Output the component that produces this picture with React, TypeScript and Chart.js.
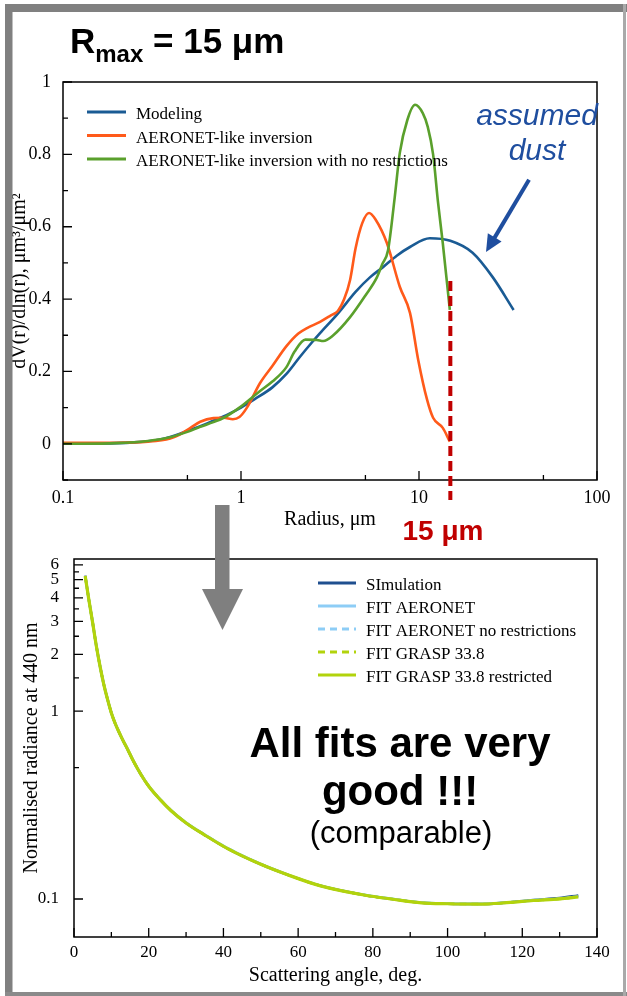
import React, { useEffect, useRef } from "react";
import { Chart, registerables } from "chart.js";
Chart.register(...registerables);

const SERIF = "'Liberation Serif', 'Times New Roman', serif";
const SANS = "'Liberation Sans', Arial, sans-serif";

// ---------- Top chart: volume size distributions ----------
const topSeriesNames = ["Modeling", "AERONET-like inversion", "AERONET-like inversion with no restrictions"];
const topColors = ["#1a5b94", "#ff5a1a", "#5aa02c"];

const modelingRadius = [0.1, 0.15, 0.2, 0.25, 0.3, 0.35, 0.4, 0.45, 0.5, 0.6, 0.7, 0.85, 1, 1.2, 1.5, 1.8, 2.14, 2.5, 2.78, 3.5, 4.4, 5.3, 6.3, 7.5, 8.9, 11.5, 15, 20, 26, 34];
const modelingValue = [0, 0.001, 0.002, 0.004, 0.007, 0.012, 0.019, 0.027, 0.036, 0.05, 0.064, 0.082, 0.1, 0.124, 0.156, 0.193, 0.24, 0.28, 0.306, 0.36, 0.42, 0.46, 0.489, 0.52, 0.544, 0.568, 0.561, 0.528, 0.46, 0.37];

const aeronetRadius = [0.1, 0.2, 0.3, 0.4, 0.45, 0.52, 0.59, 0.7, 0.8, 0.9, 0.98, 1.08, 1.28, 1.5, 1.8, 2.1, 2.35, 2.78, 3.2, 3.5, 3.8, 4.1, 4.4, 4.8, 5.24, 5.7, 6.6, 7.8, 8.9, 9.9, 11.1, 12, 13.6, 14.9];
const aeronetValue = [0.003, 0.003, 0.006, 0.015, 0.025, 0.044, 0.061, 0.071, 0.072, 0.068, 0.074, 0.1, 0.168, 0.215, 0.27, 0.305, 0.32, 0.337, 0.355, 0.367, 0.4, 0.453, 0.54, 0.61, 0.638, 0.62, 0.555, 0.434, 0.362, 0.232, 0.122, 0.072, 0.044, 0.006];

const freeRadius = [0.1, 0.2, 0.3, 0.4, 0.5, 0.59, 0.7, 0.8, 0.98, 1.28, 1.5, 1.8, 2.0, 2.3, 2.67, 2.9, 3.3, 4.1, 5.0, 5.8, 6.2, 6.7, 7.3, 7.8, 8.6, 9.5, 10.5, 11.2, 12, 12.8, 13.6, 14.9];
const freeValue = [0, 0.002, 0.008, 0.018, 0.033, 0.047, 0.06, 0.072, 0.1, 0.146, 0.172, 0.212, 0.255, 0.288, 0.287, 0.284, 0.3, 0.35, 0.41, 0.46, 0.495, 0.535, 0.68, 0.804, 0.895, 0.937, 0.914, 0.876, 0.8, 0.666, 0.555, 0.37];

const radiusTicks = [0.1, 0.5, 1, 5, 10, 50, 100];
const radiusLabels = [0.1, 1, 10, 100];
const dvTicks = [-0.1, 0, 0.1, 0.2, 0.3, 0.4, 0.5, 0.6, 0.7, 0.8, 0.9, 1];
const dvLabels = [0, 0.2, 0.4, 0.6, 0.8, 1];
const rMax = 15;
const rMaxLineTop = 0.45;
const dustArrowFrom = [41.5, 0.73];
const dustArrowTo = [23.8, 0.53];

// ---------- Bottom chart: radiance fits ----------
const bottomSeriesNames = ["SImulation", "FIT AERONET", "FIT AERONET no restrictions", "FIT GRASP 33.8", "FIT GRASP 33.8 restricted"];
const angles = [3, 4, 5, 6, 7, 8, 9, 10, 11, 12, 13, 14.5, 16, 18, 20, 23, 26, 30, 35, 41, 50, 57, 66, 78, 85, 93, 100, 109, 115, 123, 130, 135];
const simulation = [5.25, 3.89, 2.95, 2.21, 1.72, 1.38, 1.15, 0.977, 0.861, 0.776, 0.705, 0.617, 0.537, 0.457, 0.398, 0.339, 0.295, 0.254, 0.219, 0.186, 0.153, 0.135, 0.1175, 0.1047, 0.1, 0.0955, 0.0944, 0.094, 0.0955, 0.0989, 0.1012, 0.1045];
const fitAeronet = [5.22, 3.88, 2.94, 2.2, 1.715, 1.378, 1.149, 0.977, 0.861, 0.776, 0.706, 0.618, 0.538, 0.458, 0.399, 0.34, 0.296, 0.255, 0.22, 0.187, 0.1535, 0.1352, 0.1178, 0.1049, 0.1003, 0.0957, 0.0946, 0.0942, 0.0954, 0.0984, 0.1004, 0.103];
const fitAeronetFree = [5.22, 3.88, 2.94, 2.2, 1.715, 1.378, 1.149, 0.977, 0.861, 0.776, 0.706, 0.618, 0.538, 0.458, 0.399, 0.34, 0.296, 0.255, 0.22, 0.187, 0.1535, 0.1352, 0.1178, 0.1049, 0.1003, 0.0958, 0.0947, 0.0943, 0.0955, 0.0985, 0.1005, 0.1031];
const fitGrasp = [5.23, 3.885, 2.945, 2.205, 1.718, 1.379, 1.15, 0.977, 0.861, 0.776, 0.705, 0.617, 0.537, 0.457, 0.398, 0.339, 0.295, 0.254, 0.219, 0.186, 0.153, 0.135, 0.1175, 0.1047, 0.1, 0.0955, 0.0944, 0.094, 0.0953, 0.0982, 0.1002, 0.1027];
const fitGraspRestricted = [5.23, 3.885, 2.945, 2.205, 1.718, 1.379, 1.15, 0.977, 0.861, 0.776, 0.705, 0.617, 0.537, 0.457, 0.398, 0.339, 0.295, 0.254, 0.219, 0.186, 0.153, 0.135, 0.1175, 0.1047, 0.1, 0.0955, 0.0944, 0.094, 0.0953, 0.0982, 0.1002, 0.1027];
const angleTicks = [0, 10, 20, 30, 40, 50, 60, 70, 80, 90, 100, 110, 120, 130, 140];
const angleLabels = [0, 20, 40, 60, 80, 100, 120, 140];
const radianceTicks = [0.1, 0.5, 1, 1.5, 2, 2.5, 3, 3.5, 4, 4.5, 5, 5.5, 6];
const radianceLabels = [0.1, 1, 2, 3, 4, 5, 6];

const NAVY = "#1f4f8f";
const LIGHTBLUE = "#8dcdf6";
const LIME = "#b2d30c";

function pairs(xs: number[], ys: number[]) {
  return xs.map((x, i) => ({ x, y: ys[i] }));
}

function frameTicks(xTicks: number[], xMajor: number[], yTicks: number[], yMajor: number[]) {
  return {
    id: "frameTicks",
    afterDatasetsDraw(chart: any) {
      const { ctx, chartArea: a, scales } = chart;
      ctx.save();
      ctx.strokeStyle = "#000";
      ctx.lineWidth = 1.5;
      ctx.strokeRect(a.left, a.top, a.right - a.left, a.bottom - a.top);
      ctx.lineWidth = 1.3;
      ctx.beginPath();
      xTicks.forEach((v) => {
        const x = scales.x.getPixelForValue(v);
        const L = xMajor.includes(v) ? 9 : 5;
        ctx.moveTo(x, a.bottom);
        ctx.lineTo(x, a.bottom - L);
      });
      yTicks.forEach((v) => {
        const y = scales.y.getPixelForValue(v);
        const L = yMajor.includes(v) ? 9 : 5;
        ctx.moveTo(a.left, y);
        ctx.lineTo(a.left + L, y);
      });
      ctx.stroke();
      ctx.restore();
    },
  };
}

type LegendItem = { label: string; color: string; dash?: number[]; width: number };
function boxLegend(items: LegendItem[], offX: number, offY: number, step: number, sample: number, textOff: number) {
  return {
    id: "boxLegend",
    afterDraw(chart: any) {
      const { ctx, chartArea: a } = chart;
      ctx.save();
      ctx.font = `17px ${SERIF}`;
      ctx.textBaseline = "alphabetic";
      ctx.textAlign = "left";
      items.forEach((it, i) => {
        const y = a.top + offY + i * step;
        const x0 = a.left + offX;
        ctx.strokeStyle = it.color;
        ctx.lineWidth = it.width;
        ctx.setLineDash(it.dash || []);
        ctx.beginPath();
        ctx.moveTo(x0, y);
        ctx.lineTo(x0 + sample, y);
        ctx.stroke();
        ctx.setLineDash([]);
        ctx.fillStyle = "#000";
        ctx.fillText(it.label, x0 + sample + 10, y + textOff);
      });
      ctx.restore();
    },
  };
}

const topAnnotations = {
  id: "topAnnotations",
  afterDraw(chart: any) {
    const { ctx, chartArea, scales } = chart;
    const { x, y } = scales;
    ctx.save();
    const px = x.getPixelForValue(rMax);
    ctx.strokeStyle = "#c00000";
    ctx.lineWidth = 4;
    ctx.setLineDash([10, 5]);
    ctx.beginPath();
    ctx.moveTo(px, y.getPixelForValue(rMaxLineTop));
    ctx.lineTo(px, chartArea.bottom + 20);
    ctx.stroke();
    ctx.setLineDash([]);
    const x0 = x.getPixelForValue(dustArrowFrom[0]);
    const y0 = y.getPixelForValue(dustArrowFrom[1]);
    const x1 = x.getPixelForValue(dustArrowTo[0]);
    const y1 = y.getPixelForValue(dustArrowTo[1]);
    const ang = Math.atan2(y1 - y0, x1 - x0);
    const head = 17;
    const hw = 8;
    const c = Math.cos(ang);
    const s = Math.sin(ang);
    ctx.strokeStyle = "#1f4e9f";
    ctx.fillStyle = "#1f4e9f";
    ctx.lineWidth = 4;
    ctx.beginPath();
    ctx.moveTo(x0, y0);
    ctx.lineTo(x1 - c * head * 0.8, y1 - s * head * 0.8);
    ctx.stroke();
    ctx.beginPath();
    ctx.moveTo(x1, y1);
    ctx.lineTo(x1 - c * head - s * hw, y1 - s * head + c * hw);
    ctx.lineTo(x1 - c * head + s * hw, y1 - s * head - c * hw);
    ctx.closePath();
    ctx.fill();
    ctx.restore();
  },
};

function TopChart() {
  const ref = useRef<HTMLCanvasElement | null>(null);
  useEffect(() => {
    if (!ref.current) return;
    const mk = (i: number, xs: number[], ys: number[], order: number) => ({
      label: topSeriesNames[i],
      data: pairs(xs, ys),
      borderColor: topColors[i],
      borderWidth: 2.6,
      pointRadius: 0,
      cubicInterpolationMode: "monotone",
      order,
    });
    const chart = new Chart(ref.current, {
      type: "line",
      data: {
        datasets: [
          mk(0, modelingRadius, modelingValue, 3),
          mk(1, aeronetRadius, aeronetValue, 2),
          mk(2, freeRadius, freeValue, 1),
        ] as any,
      },
      options: {
        animation: false,
        responsive: false,
        maintainAspectRatio: false,
        layout: { padding: { left: 0, top: 82, right: 30, bottom: 8 } },
        plugins: { legend: { display: false }, tooltip: { enabled: false } },
        scales: {
          x: {
            type: "logarithmic",
            min: 0.1,
            max: 100,
            grid: { display: false },
            border: { display: false },
            afterBuildTicks: (s: any) => {
              s.ticks = radiusTicks.map((v) => ({ value: v }));
            },
            afterFit: (s: any) => {
              s.height = 52;
            },
            ticks: {
              autoSkip: false,
              maxRotation: 0,
              padding: -1,
              color: "#000",
              font: { family: SERIF, size: 18 },
              callback: (v: any) => (radiusLabels.includes(Number(v)) ? String(v) : ""),
            },
            title: { display: true, text: "Radius, μm", color: "#000", font: { family: SERIF, size: 20 }, padding: 0 },
          },
          y: {
            type: "linear",
            min: -0.1,
            max: 1,
            grid: { display: false },
            border: { display: false },
            afterBuildTicks: (s: any) => {
              s.ticks = dvTicks.map((v) => ({ value: v }));
            },
            afterFit: (s: any) => {
              s.width = 63;
            },
            ticks: {
              autoSkip: false,
              padding: 4,
              color: "#000",
              font: { family: SERIF, size: 18 },
              callback: (v: any) => (dvLabels.includes(Number(v)) ? String(v) : ""),
            },
            title: {
              display: true,
              text: "dV(r)/dln(r), μm³/μm²",
              color: "#000",
              font: { family: SERIF, size: 20 },
              padding: { top: 8, bottom: 0 },
            },
          },
        },
      } as any,
      plugins: [
        frameTicks(radiusTicks, radiusLabels, dvTicks, dvLabels),
        boxLegend(
          topSeriesNames.map((n, i) => ({ label: n, color: topColors[i], width: 3 })),
          24,
          30,
          23.5,
          39,
          7
        ),
        topAnnotations,
      ],
    });
    return () => chart.destroy();
  }, []);
  return (
    <canvas
      ref={ref}
      width={627}
      height={540}
      style={{ position: "absolute", left: 0, top: 0, width: 627, height: 540 }}
    />
  );
}

function BottomChart() {
  const ref = useRef<HTMLCanvasElement | null>(null);
  useEffect(() => {
    if (!ref.current) return;
    const styles: LegendItem[] = [
      { label: bottomSeriesNames[0], color: NAVY, width: 3 },
      { label: bottomSeriesNames[1], color: LIGHTBLUE, width: 3 },
      { label: bottomSeriesNames[2], color: LIGHTBLUE, width: 3, dash: [7, 5] },
      { label: bottomSeriesNames[3], color: LIME, width: 3, dash: [7, 5] },
      { label: bottomSeriesNames[4], color: LIME, width: 3 },
    ];
    const series = [simulation, fitAeronet, fitAeronetFree, fitGrasp, fitGraspRestricted];
    const chart = new Chart(ref.current, {
      type: "line",
      data: {
        datasets: series.map((vals, i) => ({
          label: bottomSeriesNames[i],
          data: pairs(angles, vals),
          borderColor: styles[i].color,
          borderWidth: i === 4 ? 3.2 : 2.6,
          borderDash: styles[i].dash || [],
          pointRadius: 0,
          cubicInterpolationMode: "monotone",
          order: 5 - i,
        })) as any,
      },
      options: {
        animation: false,
        responsive: false,
        maintainAspectRatio: false,
        layout: { padding: { left: 0, top: 19, right: 30, bottom: 8 } },
        plugins: { legend: { display: false }, tooltip: { enabled: false } },
        scales: {
          x: {
            type: "linear",
            min: 0,
            max: 140,
            grid: { display: false },
            border: { display: false },
            afterBuildTicks: (s: any) => {
              s.ticks = angleTicks.map((v) => ({ value: v }));
            },
            afterFit: (s: any) => {
              s.height = 51;
            },
            ticks: {
              autoSkip: false,
              maxRotation: 0,
              padding: -3,
              color: "#000",
              font: { family: SERIF, size: 17 },
              callback: (v: any) => (angleLabels.includes(Number(v)) ? String(v) : ""),
            },
            title: { display: true, text: "Scattering angle, deg.", color: "#000", font: { family: SERIF, size: 20 }, padding: 0 },
          },
          y: {
            type: "logarithmic",
            min: 0.0628,
            max: 6.44,
            grid: { display: false },
            border: { display: false },
            afterBuildTicks: (s: any) => {
              s.ticks = radianceTicks.map((v) => ({ value: v }));
            },
            afterFit: (s: any) => {
              s.width = 74;
            },
            ticks: {
              autoSkip: false,
              padding: 7,
              color: "#000",
              font: { family: SERIF, size: 17 },
              callback: (v: any) => (radianceLabels.includes(Number(v)) ? String(v) : ""),
            },
            title: {
              display: true,
              text: "Normalised radiance at 440 nm",
              color: "#000",
              font: { family: SERIF, size: 20 },
              padding: { top: 20, bottom: 0 },
            },
          },
        },
      } as any,
      plugins: [
        frameTicks(angleTicks, angleLabels, radianceTicks, radianceLabels),
        boxLegend(styles, 244, 24, 23, 38, 6.5),
      ],
    });
    return () => chart.destroy();
  }, []);
  return (
    <canvas
      ref={ref}
      width={627}
      height={456}
      style={{ position: "absolute", left: 0, top: 540, width: 627, height: 456 }}
    />
  );
}

function Overlay() {
  return (
    <svg
      width={627}
      height={996}
      style={{ position: "absolute", left: 0, top: 0, pointerEvents: "none" }}
    >
      <rect x={5} y={4} width={622} height={8} fill="#808080" />
      <rect x={5} y={4} width={7.5} height={992} fill="#808080" />
      <rect x={5} y={992} width={622} height={4} fill="#8a8a8a" />
      <rect x={623} y={4} width={3} height={992} fill="#a9a9a9" />
      <text x={70} y={53} fontFamily={SANS} fontWeight="bold" fontSize={35} fill="#000">
        R
        <tspan fontSize={24} dy={9}>max</tspan>
        <tspan dy={-9}>{" = 15 μm"}</tspan>
      </text>
      <text x={537} y={125} textAnchor="middle" fontFamily={SANS} fontStyle="italic" fontSize={30} fill="#1f4e9f">
        assumed
      </text>
      <text x={537} y={160} textAnchor="middle" fontFamily={SANS} fontStyle="italic" fontSize={30} fill="#1f4e9f">
        dust
      </text>
      <text x={443} y={540} textAnchor="middle" fontFamily={SANS} fontWeight="bold" fontSize={28} fill="#c00000">
        15 μm
      </text>
      <rect x={215} y={505} width={14.5} height={85} fill="#7f7f7f" />
      <polygon points="202,589 243,589 222.5,630" fill="#7f7f7f" />
      <text x={400} y={757} textAnchor="middle" fontFamily={SANS} fontWeight="bold" fontSize={42} fill="#000">
        All fits are very
      </text>
      <text x={400} y={805} textAnchor="middle" fontFamily={SANS} fontWeight="bold" fontSize={42} fill="#000">
        good !!!
      </text>
      <text x={401} y={843} textAnchor="middle" fontFamily={SANS} fontSize={31} fill="#000">
        (comparable)
      </text>
    </svg>
  );
}

export default function App() {
  return (
    <div style={{ position: "absolute", left: 0, top: 0, width: 627, height: 996, background: "#fff" }}>
      <TopChart />
      <BottomChart />
      <Overlay />
    </div>
  );
}
